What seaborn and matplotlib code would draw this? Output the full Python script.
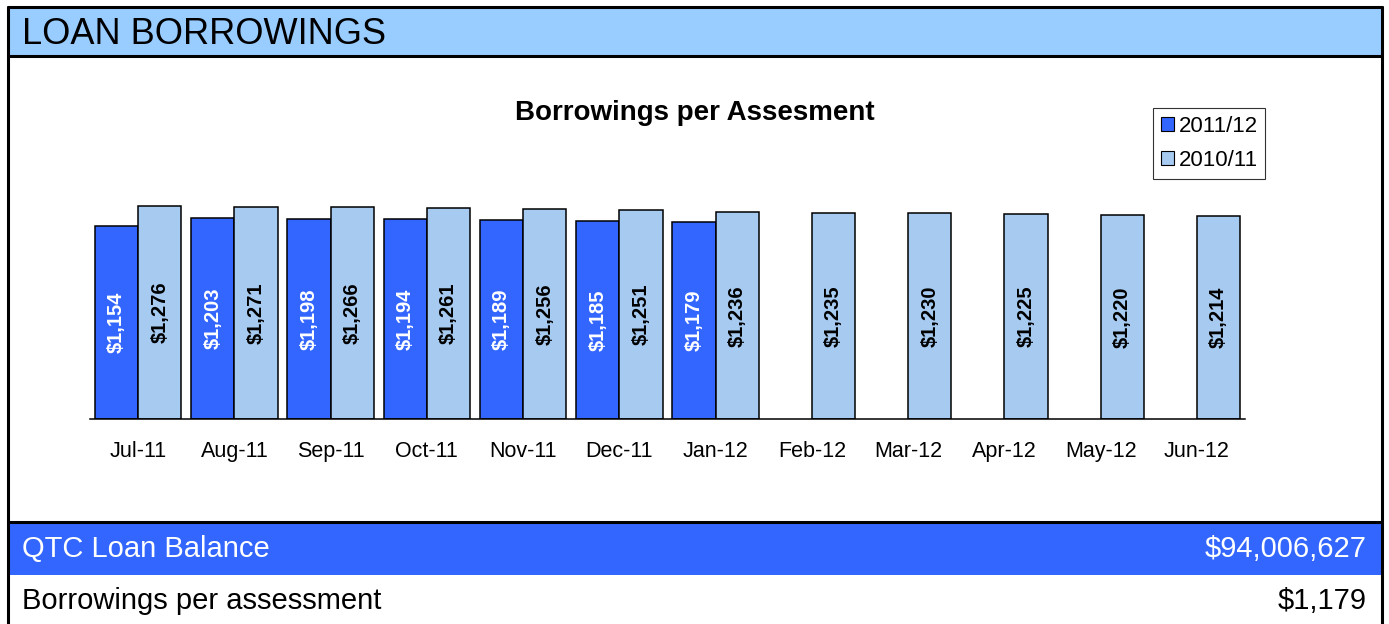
import numpy as np
import pandas as pd
import matplotlib
matplotlib.use("Agg")
import matplotlib.pyplot as plt
from matplotlib.patches import Rectangle, Patch
import seaborn as sns

months = ["Jul-11", "Aug-11", "Sep-11", "Oct-11", "Nov-11", "Dec-11",
          "Jan-12", "Feb-12", "Mar-12", "Apr-12", "May-12", "Jun-12"]
series_names = ["2011/12", "2010/11"]
values_2011_12 = [1154, 1203, 1198, 1194, 1189, 1185, 1179,
                  np.nan, np.nan, np.nan, np.nan, np.nan]
values_2010_11 = [1276, 1271, 1266, 1261, 1256, 1251, 1236,
                  1235, 1230, 1225, 1220, 1214]
header_title = "LOAN BORROWINGS"
chart_title = "Borrowings per Assesment"
balance_label = "QTC Loan Balance"
balance_value = "$94,006,627"
per_label = "Borrowings per assessment"
per_value = "$1,179"

DARK = "#3366FF"
LIGHT = "#A6CAF0"
BAND = "#99CCFF"

sns.set_style("white")
plt.rcParams["font.family"] = ["Liberation Sans", "DejaVu Sans"]
plt.rcParams["text.color"] = "black"
plt.rcParams["xtick.color"] = "black"
plt.rcParams["xtick.labelcolor"] = "black"

W, H = 1389, 624
fig = plt.figure(figsize=(W / 100, H / 100), dpi=100)

# background frame axes in pixel coordinates
bg = fig.add_axes([0, 0, 1, 1])
bg.set_xlim(0, W)
bg.set_ylim(H, 0)
bg.axis("off")
bg.add_patch(Rectangle((8, 7), 1374, 48, facecolor=BAND, edgecolor="none"))
bg.add_patch(Rectangle((8, 522), 1374, 53, facecolor=DARK, edgecolor="none"))
lw = 2.2
bg.plot([8, 1382], [7, 7], color="black", lw=lw)
bg.plot([8, 1382], [55.5, 55.5], color="black", lw=lw)
bg.plot([8, 1382], [521.5, 521.5], color="black", lw=lw)
bg.plot([8, 8], [7, 624], color="black", lw=lw)
bg.plot([1382, 1382], [7, 624], color="black", lw=lw)
bg.text(22, 34, header_title, fontsize=26, va="center", ha="left", color="black")
bg.text(22, 549, balance_label, fontsize=21, va="center", ha="left", color="white")
bg.text(1367, 549, balance_value, fontsize=21, va="center", ha="right", color="white")
bg.text(22, 601, per_label, fontsize=21, va="center", ha="left", color="black")
bg.text(1367, 601, per_value, fontsize=21, va="center", ha="right", color="black")
bg.text(695, 113, chart_title, fontsize=20, fontweight="bold", va="center", ha="center",
        color="black")

# chart axes
left, right, bottom_px, top_px = 90, 1245, 419, 185
ax = fig.add_axes([left / W, (H - bottom_px) / H, (right - left) / W, (bottom_px - top_px) / H])
ax.patch.set_alpha(0)

df = pd.DataFrame({
    "month": months * 2,
    "value": list(values_2011_12) + list(values_2010_11),
    "series": [series_names[0]] * len(months) + [series_names[1]] * len(months),
})
sns.barplot(data=df, x="month", y="value", hue="series", order=months,
            hue_order=series_names, palette=[DARK, LIGHT], saturation=1,
            edgecolor="black", linewidth=1.1, width=0.9, ax=ax, legend=False)

ax.set_ylim(0, 1400)
ax.set_xlim(-0.5, len(months) - 0.5)
ax.set_xlabel("")
ax.set_ylabel("")
ax.set_yticks([])
for s in ["top", "left", "right"]:
    ax.spines[s].set_visible(False)
ax.spines["bottom"].set_color("black")
ax.spines["bottom"].set_linewidth(1.1)
ax.tick_params(axis="x", which="major", length=0, labelsize=15.5, pad=16,
               labelcolor="black")
ax.set_xticks(np.arange(-0.5, len(months), 1), minor=True)
ax.tick_params(axis="x", which="minor", length=5, width=1, color="#808080", direction="out")

label_colors = ["white", "black"]
for cont, col in zip(ax.containers, label_colors):
    labs = ["" if np.isnan(v) else f"${v:,.0f}" for v in cont.datavalues]
    ax.bar_label(cont, labels=labs, label_type="center", rotation=90,
                 color=col, fontsize=14.5, fontweight="bold")

handles = [Patch(facecolor=DARK, edgecolor="black", linewidth=0.8),
           Patch(facecolor=LIGHT, edgecolor="black", linewidth=0.8)]
leg = fig.legend(handles, series_names, loc="upper left",
                 bbox_to_anchor=(1153 / W, 1 - 108 / H), fontsize=16,
                 frameon=True, fancybox=False, handlelength=0.6, handleheight=0.6,
                 handletextpad=0.2, labelspacing=0.6, borderpad=0.35, borderaxespad=0)
leg.get_frame().set_edgecolor("black")
leg.get_frame().set_linewidth(0.8)
for t in leg.get_texts():
    t.set_color("black")

fig.savefig("out.png", dpi=100)
